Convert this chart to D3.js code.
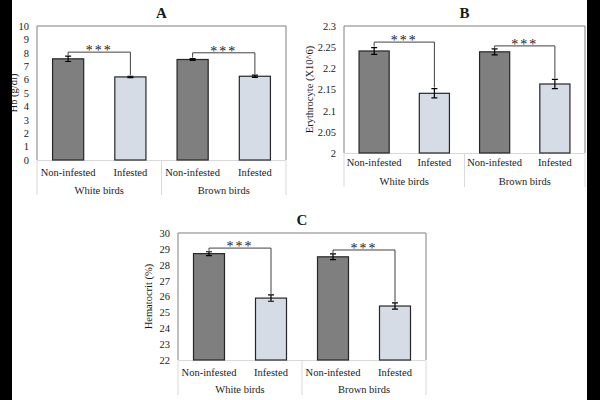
<!DOCTYPE html>
<meta charset="utf-8">
<style>
body { margin: 0; background: #fff; }
text { font-family: "Liberation Serif", "Times New Roman", serif; fill: #1a1a1a; }
.bar-dark { fill: #7f7f7f; stroke: #262626; stroke-width: 1.2px; }
.bar-light { fill: #d6dce5; stroke: #262626; stroke-width: 1.2px; }
.err { stroke: #000; stroke-width: 1.2px; }
.bracket { stroke: #404040; stroke-width: 1px; fill: none; }
.sep { stroke: #d9d9d9; stroke-width: 1px; }
.frame { stroke: #7f7f7f; stroke-width: 1px; fill: none; }
</style>
<svg width="600" height="400"></svg>
<script src="https://d3js.org/d3.v7.min.js"></script>
<script>

var svg = d3.select("svg");

// category labels
var groups = ["White birds", "Brown birds"];
var conditions = ["Non-infested", "Infested", "Non-infested", "Infested"];

// A: hemoglobin
var hbValues = [7.55, 6.2, 7.5, 6.25];
var hbErrors = [0.2, 0.05, 0.07, 0.08];
var hbBrackets = [8.05, 8.0];
var hbTicks = [0, 1, 2, 3, 4, 5, 6, 7, 8, 9, 10];

// B: erythrocyte
var eryValues = [2.241, 2.141, 2.239, 2.163];
var eryErrors = [0.008, 0.011, 0.007, 0.011];
var eryBrackets = [2.262, 2.253];
var eryTicks = [2, 2.05, 2.1, 2.15, 2.2, 2.25, 2.3];

// C: hematocrit
var hctValues = [28.7, 25.9, 28.5, 25.4];
var hctErrors = [0.12, 0.2, 0.18, 0.2];
var hctBrackets = [29.05, 28.93];
var hctTicks = [22, 23, 24, 25, 26, 27, 28, 29, 30];

function drawPanel(cfg) {
  var g = svg.append("g");
  var x = d3.scaleBand().domain(d3.range(4))
    .range([cfg.left, cfg.right]).paddingInner(0.5).paddingOuter(0.25);
  var y = d3.scaleLinear().domain(cfg.domain).range([cfg.bottom, cfg.top]);

  // title
  g.append("text").attr("x", (cfg.left + cfg.right) / 2).attr("y", cfg.top - 8)
    .attr("text-anchor", "middle").style("font-weight", "bold").style("font-size", "15px")
    .text(cfg.title);

  // y axis
  var yAxis = d3.axisLeft(y).tickValues(cfg.ticks).tickSize(0).tickPadding(8)
    .tickFormat(function(d) { return String(+d.toFixed(2)); });
  var ya = g.append("g").attr("transform", "translate(" + cfg.left + ",0)").call(yAxis);
  ya.select(".domain").remove();
  ya.selectAll("text").style("font-size", "10.5px").attr("fill", "#1a1a1a");

  g.append("text")
    .attr("transform", "translate(" + cfg.labelX + "," + ((cfg.top + cfg.bottom) / 2) + ") rotate(-90)")
    .attr("text-anchor", "middle").style("font-size", "10.5px").text(cfg.ylabel);

  // plot frame (top, left, right) and category axis lines
  g.append("path").attr("class", "frame")
    .attr("d", "M" + cfg.left + "," + cfg.bottom + "V" + cfg.top + "H" + cfg.right + "V" + cfg.bottom);
  g.append("line").attr("class", "sep")
    .attr("x1", cfg.left).attr("x2", cfg.right).attr("y1", cfg.bottom + 0.5).attr("y2", cfg.bottom + 0.5);
  var mid = (cfg.left + cfg.right) / 2;
  [cfg.left, mid, cfg.right].forEach(function(px) {
    g.append("line").attr("class", "sep")
      .attr("x1", px).attr("x2", px).attr("y1", cfg.bottom + 1).attr("y2", cfg.bottom + cfg.catDepth);
  });

  // bars
  g.selectAll(".bar").data(cfg.values).enter().append("rect")
    .attr("class", function(d, i) { return i % 2 === 0 ? "bar-dark" : "bar-light"; })
    .attr("x", function(d, i) { return x(i); })
    .attr("width", x.bandwidth())
    .attr("y", function(d) { return y(d); })
    .attr("height", function(d) { return cfg.bottom - y(d); });

  // error bars
  cfg.values.forEach(function(v, i) {
    var cx = x(i) + x.bandwidth() / 2, e = cfg.errors[i];
    g.append("path").attr("class", "err")
      .attr("d", "M" + cx + "," + y(v - e) + "V" + y(v + e) +
        "M" + (cx - 3) + "," + y(v + e) + "H" + (cx + 3) +
        "M" + (cx - 3) + "," + y(v - e) + "H" + (cx + 3));
  });

  // significance brackets
  cfg.brackets.forEach(function(b, k) {
    var i0 = k * 2, i1 = k * 2 + 1;
    var x0 = x(i0) + x.bandwidth() / 2, x1 = x(i1) + x.bandwidth() / 2;
    var top0 = y(cfg.values[i0] + cfg.errors[i0]) - 1;
    var top1 = y(cfg.values[i1] + cfg.errors[i1]) - 1;
    g.append("path").attr("class", "bracket")
      .attr("d", "M" + x0 + "," + top0 + "V" + y(b) + "H" + x1 + "V" + top1);
    g.append("text").attr("x", (x0 + x1) / 2).attr("y", y(b) + 3)
      .attr("text-anchor", "middle").style("font-size", "14px")
      .style("letter-spacing", "2px").text("***");
  });

  // category labels
  conditions.forEach(function(c, i) {
    g.append("text").attr("x", x(i) + x.bandwidth() / 2).attr("y", cfg.bottom + cfg.row1)
      .attr("text-anchor", "middle").style("font-size", "10.5px").text(c);
  });
  groups.forEach(function(gr, k) {
    g.append("text").attr("x", cfg.left + (k + 0.5) * (cfg.right - cfg.left) / 2)
      .attr("y", cfg.bottom + cfg.row2)
      .attr("text-anchor", "middle").style("font-size", "10.5px").text(gr);
  });
}

drawPanel({ title: "A", left: 37, right: 286, top: 26, bottom: 160, domain: [0, 10],
  ticks: hbTicks, values: hbValues, errors: hbErrors, brackets: hbBrackets,
  ylabel: "Hb (g/dl)", labelX: 17, row1: 16, row2: 34, catDepth: 35 });

drawPanel({ title: "B", left: 344, right: 585, top: 26, bottom: 153, domain: [2, 2.3],
  ticks: eryTicks, values: eryValues, errors: eryErrors, brackets: eryBrackets,
  ylabel: "Erythrocyte (X10^6)", labelX: 313, row1: 13, row2: 32, catDepth: 34 });

drawPanel({ title: "C", left: 178, right: 426, top: 233, bottom: 360, domain: [22, 30],
  ticks: hctTicks, values: hctValues, errors: hctErrors, brackets: hctBrackets,
  ylabel: "Hematocrit (%)", labelX: 152, row1: 16, row2: 33, catDepth: 35 });

// black side strips of the figure
svg.append("rect").attr("x", 0).attr("y", 0).attr("width", 12).attr("height", 400).attr("fill", "#000");
svg.append("rect").attr("x", 587).attr("y", 0).attr("width", 13).attr("height", 400).attr("fill", "#000");

</script>
